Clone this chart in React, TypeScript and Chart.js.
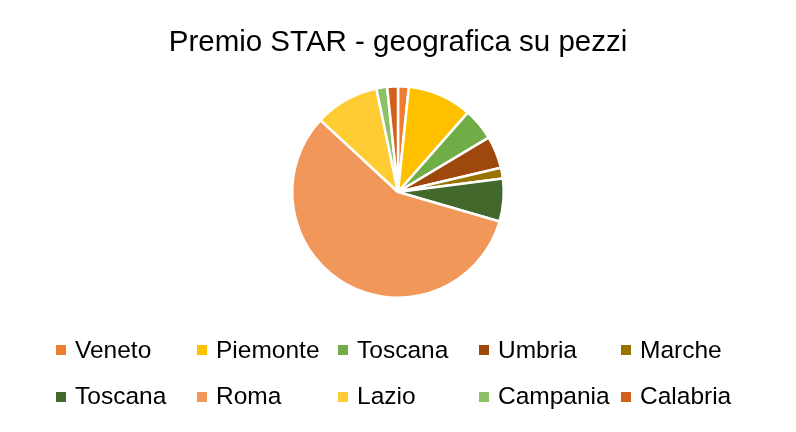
import React, { useEffect, useRef } from "react";
import { Chart, registerables } from "chart.js";

Chart.register(...registerables);

const TITLE = "Premio STAR - geografica su pezzi";
const categories = ["Veneto", "Piemonte", "Toscana", "Umbria", "Marche", "Toscana", "Roma", "Lazio", "Campania", "Calabria"];
const values = [1, 6, 3, 3, 1, 4, 35, 6, 1, 1];
const colors = ["#ED7D31", "#FFC000", "#70AD47", "#9E480E", "#997300", "#43682B", "#F1975A", "#FFCD33", "#8CC168", "#D2611C"];

const FONT = "'Liberation Sans', Arial, Helvetica, sans-serif";
const legendCols = [56, 197, 338, 479, 621];
const legendRows = [{ box: 345, text: 338 }, { box: 392, text: 384 }];

export default function App() {
  const ref = useRef<HTMLCanvasElement | null>(null);

  useEffect(() => {
    document.body.style.margin = "0";
    const canvas = ref.current;
    if (!canvas) return;
    const chart = new Chart(canvas, {
      type: "pie",
      data: {
        labels: categories,
        datasets: [
          {
            data: values,
            backgroundColor: colors,
            borderColor: "#FFFFFF",
            borderWidth: 2.5,
            hoverOffset: 0,
          },
        ],
      },
      options: {
        animation: false,
        responsive: false,
        events: [],
        layout: { padding: { top: 85, bottom: 133, left: 291, right: 291 } },
        plugins: {
          legend: { display: false },
          title: { display: false },
          tooltip: { enabled: false },
        },
      },
    });
    return () => chart.destroy();
  }, []);

  return (
    <div style={{ position: "relative", width: 796, height: 432, background: "#FFFFFF", overflow: "hidden", fontFamily: FONT }}>
      <canvas ref={ref} width={796} height={432} style={{ position: "absolute", left: 0, top: 0, width: 796, height: 432 }} />
      <div
        style={{
          position: "absolute",
          left: 0,
          top: 26,
          width: 796,
          textAlign: "center",
          fontSize: 29.5,
          lineHeight: "29.5px",
          color: "#000000",
          whiteSpace: "nowrap",
        }}
      >
        {TITLE}
      </div>
      {categories.map((c, i) => {
        const col = legendCols[i % 5];
        const row = legendRows[Math.floor(i / 5)];
        return (
          <React.Fragment key={i}>
            <div style={{ position: "absolute", left: col, top: row.box, width: 10, height: 10, background: colors[i] }} />
            <div
              style={{
                position: "absolute",
                left: col + 19,
                top: row.text,
                fontSize: 24.5,
                lineHeight: "24.5px",
                color: "#000000",
                whiteSpace: "nowrap",
              }}
            >
              {c}
            </div>
          </React.Fragment>
        );
      })}
    </div>
  );
}
